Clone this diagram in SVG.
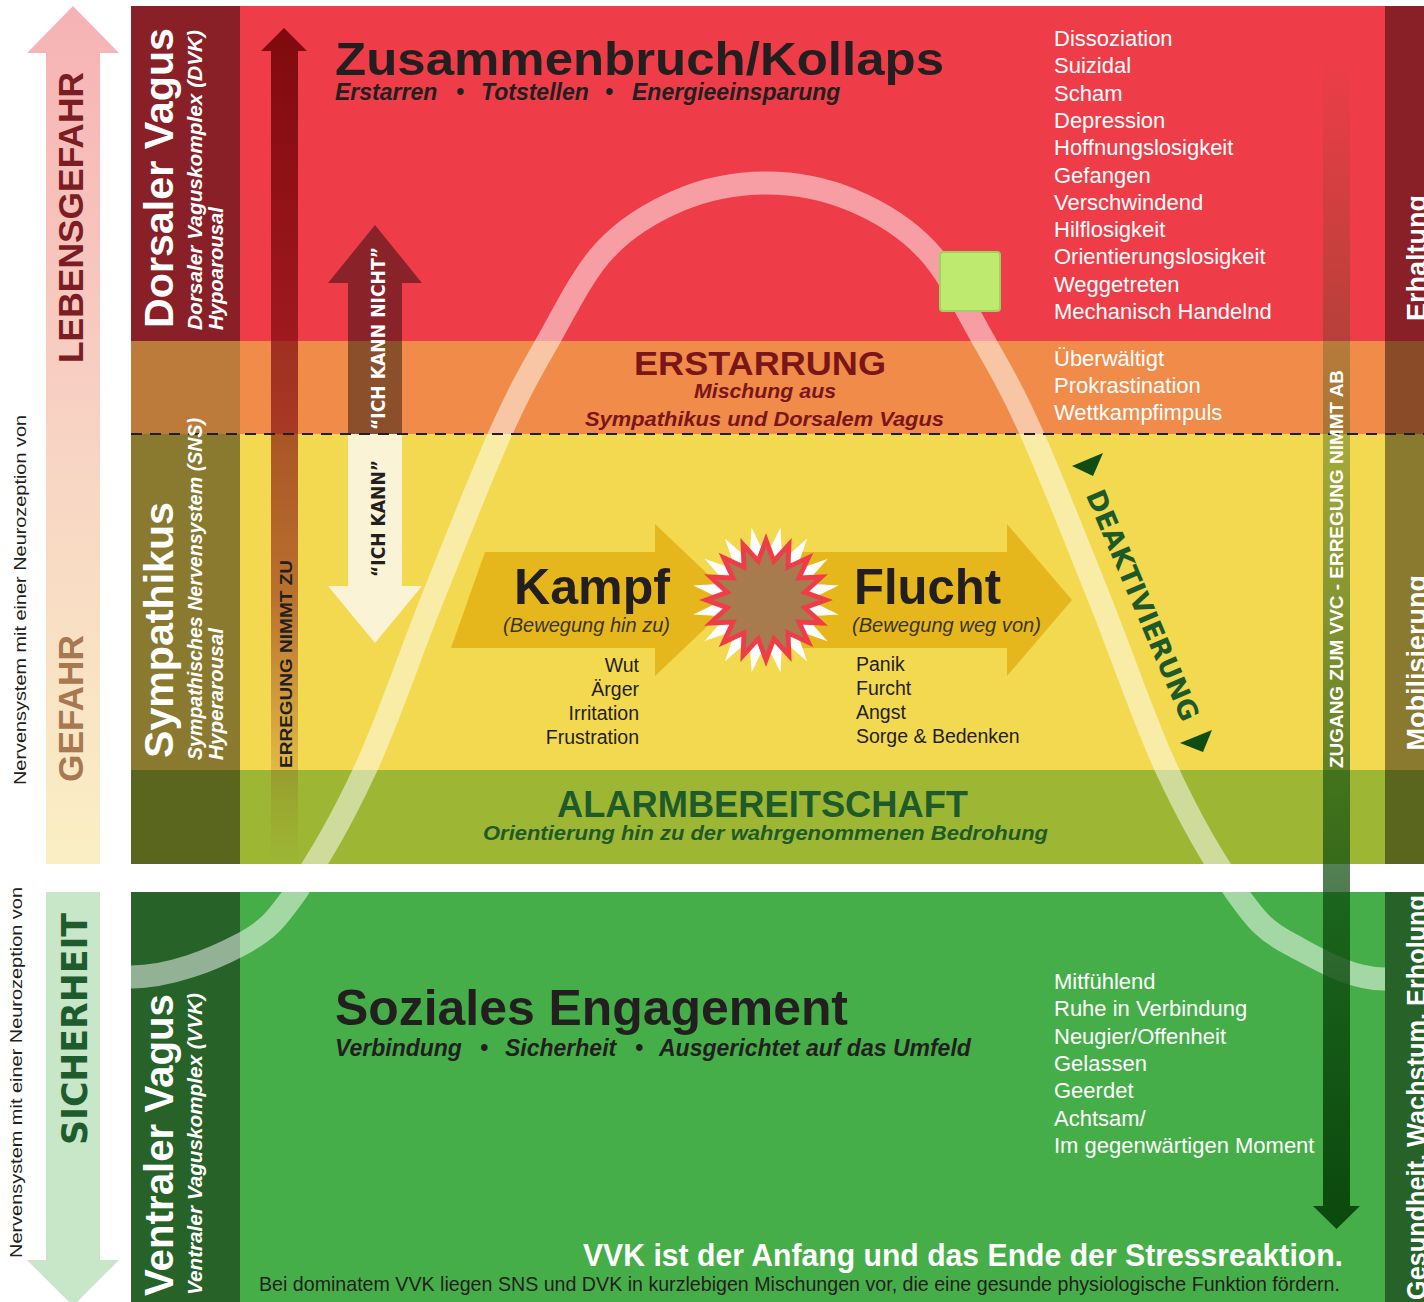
<svg xmlns="http://www.w3.org/2000/svg" width="1424" height="1302" viewBox="0 0 1424 1302">
<defs>
<style>
.b{font-family:"Liberation Sans",Arial,sans-serif;font-weight:bold}
.bi{font-family:"Liberation Sans",Arial,sans-serif;font-weight:bold;font-style:italic}
.r{font-family:"Liberation Sans",Arial,sans-serif}
.it{font-family:"Liberation Sans",Arial,sans-serif;font-style:italic}
.dv{font-family:"DejaVu Sans",Verdana,sans-serif;font-weight:bold}
.w{fill:#ffffff}
.k{fill:#231F20}
.list{font-family:"Liberation Sans",Arial,sans-serif;font-size:22px;fill:#ffffff}
.kl{font-family:"Liberation Sans",Arial,sans-serif;font-size:19.5px;fill:#231F20}
</style>
<linearGradient id="gLeb" x1="0" y1="6" x2="0" y2="864" gradientUnits="userSpaceOnUse">
<stop offset="0" stop-color="#F6B2B4"/><stop offset="0.5" stop-color="#F8D3C4"/><stop offset="1" stop-color="#FAEFC4"/>
</linearGradient>
<linearGradient id="gErr" x1="0" y1="28" x2="0" y2="864" gradientUnits="userSpaceOnUse">
<stop offset="0" stop-color="#7F0A0E" stop-opacity="1"/>
<stop offset="0.36" stop-color="#7F0A0E" stop-opacity="0.72"/>
<stop offset="0.68" stop-color="#7F0A0E" stop-opacity="0.5"/>
<stop offset="0.92" stop-color="#7F0A0E" stop-opacity="0.1"/>
<stop offset="1" stop-color="#7F0A0E" stop-opacity="0"/>
</linearGradient>
<linearGradient id="gZug" x1="0" y1="55" x2="0" y2="1206" gradientUnits="userSpaceOnUse">
<stop offset="0" stop-color="#0C4A0E" stop-opacity="0"/>
<stop offset="1" stop-color="#0C4A0E" stop-opacity="1"/>
</linearGradient>
<polygon id="star" points="0,-100 11.3,-56.9 38.3,-92.4 32.2,-48.2 70.7,-70.7 48.2,-32.2 92.4,-38.3 56.9,-11.3 100,0 56.9,11.3 92.4,38.3 48.2,32.2 70.7,70.7 32.2,48.2 38.3,92.4 11.3,56.9 0,100 -11.3,56.9 -38.3,92.4 -32.2,48.2 -70.7,70.7 -48.2,32.2 -92.4,38.3 -56.9,11.3 -100,0 -56.9,-11.3 -92.4,-38.3 -48.2,-32.2 -70.7,-70.7 -32.2,-48.2 -38.3,-92.4 -11.3,-56.9"/>
<polygon id="star2" points="0,-100 12.9,-64.7 38.3,-92.4 36.7,-54.9 70.7,-70.7 54.9,-36.7 92.4,-38.3 64.7,-12.9 100,0 64.7,12.9 92.4,38.3 54.9,36.7 70.7,70.7 36.7,54.9 38.3,92.4 12.9,64.7 0,100 -12.9,64.7 -38.3,92.4 -36.7,54.9 -70.7,70.7 -54.9,36.7 -92.4,38.3 -64.7,12.9 -100,0 -64.7,-12.9 -92.4,-38.3 -54.9,-36.7 -70.7,-70.7 -36.7,-54.9 -38.3,-92.4 -12.9,-64.7"/>
<clipPath id="clipBands"><rect x="131" y="6" width="1254" height="858"/><rect x="131" y="892" width="1254" height="410"/></clipPath>
</defs>

<g id="bands">
<rect x="131" y="6" width="1293" height="335" fill="#EE3D48"/>
<rect x="131" y="341" width="1293" height="93" fill="#F08B4A"/>
<rect x="131" y="434" width="1293" height="336" fill="#F3D94F"/>
<rect x="131" y="770" width="1293" height="94" fill="#9DB734"/>
<rect x="131" y="892" width="1293" height="410" fill="#46AE48"/>
</g>
<g id="left-column">
<rect x="131" y="6" width="109" height="335" fill="#8A2027"/>
<rect x="131" y="341" width="109" height="93" fill="#BC7B3A"/>
<rect x="131" y="434" width="109" height="336" fill="#8A7A30"/>
<rect x="131" y="770" width="109" height="94" fill="#5A661E"/>
<rect x="131" y="892" width="109" height="410" fill="#276329"/>
</g>
<g id="right-column">
<rect x="1385" y="6" width="39" height="335" fill="#8A2027"/>
<rect x="1385" y="341" width="39" height="93" fill="#8A4B28"/>
<rect x="1385" y="434" width="39" height="336" fill="#8A7A30"/>
<rect x="1385" y="770" width="39" height="94" fill="#5A661E"/>
<rect x="1385" y="892" width="39" height="410" fill="#276329"/>
</g>

<g id="curve" clip-path="url(#clipBands)">
<path d="M131,977 C170,977 212.5,959.5 240,945 C267.5,930.5 275.2,921.2 296,892 C316.8,862.8 342.3,818.7 365,770 C387.7,721.3 409.5,656 432,600 C454.5,544 480.7,477.2 500,434 C519.3,390.8 530.5,371.7 548,341 C565.5,310.3 583,273.5 605,250 C627,226.5 653.2,211.2 680,200 C706.8,188.8 737.3,183 766,183 C794.7,183 825.2,188.8 852,200 C878.8,211.2 905,226.5 927,250 C949,273.5 966.5,310.3 984,341 C1001.5,371.7 1012.7,390.8 1032,434 C1051.3,477.2 1077.5,544 1100,600 C1122.5,656 1144.3,721.3 1167,770 C1189.7,818.7 1215.2,862.8 1236,892 C1256.8,921.2 1264.5,930.5 1292,945 C1319.5,959.5 1350,979 1385,979" fill="none" stroke="#ffffff" stroke-opacity="0.5" stroke-width="23"/>
</g>

<g id="connectors">
<path id="arrow-lebensgefahr" d="M46,864 V53 H27 L73,6 L119,53 H100 V864 Z" fill="url(#gLeb)"/>
<path id="arrow-sicherheit" d="M46,892 V1260 H27 L73,1306 L119,1260 H100 V892 Z" fill="#C8E6C8"/>
<path id="arrow-erregung-zu" d="M271,864 V51 H261 L284,28 L307,51 H298 V864 Z" fill="url(#gErr)"/>
<path id="arrow-ich-kann-nicht" d="M348,434 V283 H328 L375,225 L422,283 H402 V434 Z" fill="#000000" fill-opacity="0.42"/>
<path id="arrow-ich-kann" d="M348,434 V586 H328 L375,643 L422,586 H402 V434 Z" fill="#FBF3D6"/>
<path id="arrow-zugang" d="M1323,55 V1206 H1313 L1336.5,1229 L1360,1206 H1350 V55 Z" fill="url(#gZug)"/>
<polygon id="arrow-kampf" points="485,552 655,552 655,524 735,600 655,676 655,648 451,648" fill="#E5B71C"/>
<polygon id="arrow-flucht" points="766,552 1007,552 1007,524 1072,600 1007,676 1007,648 766,648" fill="#E5B71C"/>
<polygon id="tri-top" points="1072,466 1103,453 1093,476" fill="#0F4D12"/>
<polygon id="tri-bottom" points="1180,743 1212,730 1203,752" fill="#0F4D12"/>
</g>

<g id="dashed-divider">
<line x1="131" y1="434" x2="1424" y2="434" stroke="#231F20" stroke-width="2" stroke-dasharray="11 8"/>
</g>

<g id="star-burst">
<use href="#star" transform="translate(766,600) rotate(11.25) scale(0.74)" fill="#ffffff"/>
<use href="#star2" transform="translate(766,600) scale(0.6)" fill="#A87B4E" stroke="#EE3D48" stroke-width="8" stroke-miterlimit="10"/>
</g>

<g id="marker-square">
<rect x="940" y="252" width="60" height="59" rx="3" fill="#BEEA70" stroke="#9DD35C" stroke-width="2"/>
</g>

<g id="side-labels">
<text class="b" font-size="35" fill="#7B1D23" transform="translate(83,363) rotate(-90)" textLength="291" lengthAdjust="spacingAndGlyphs">LEBENSGEFAHR</text>
<text class="b" font-size="35" fill="#A87850" transform="translate(83,782) rotate(-90)" textLength="147" lengthAdjust="spacingAndGlyphs">GEFAHR</text>
<text class="dv" font-size="36" fill="#1E5C2E" transform="translate(87,1145) rotate(-90)" textLength="232" lengthAdjust="spacingAndGlyphs">SICHERHEIT</text>
<text class="r" font-size="17" fill="#231F20" transform="translate(26,785) rotate(-90)" textLength="370" lengthAdjust="spacingAndGlyphs">Nervensystem mit einer Neurozeption von</text>
<text class="r" font-size="17" fill="#231F20" transform="translate(22,1258) rotate(-90)" textLength="371" lengthAdjust="spacingAndGlyphs">Nervensystem mit einer Neurozeption von</text>
</g>

<g id="node-dorsaler-vagus">
<text class="b w" font-size="41" transform="translate(173,328) rotate(-90)" textLength="300" lengthAdjust="spacingAndGlyphs">Dorsaler Vagus</text>
<text class="bi w" font-size="21" transform="translate(202,330) rotate(-90)" textLength="300" lengthAdjust="spacingAndGlyphs">Dorsaler Vaguskomplex (DVK)</text>
<text class="bi w" font-size="21" transform="translate(223,330) rotate(-90)" textLength="123" lengthAdjust="spacingAndGlyphs">Hypoarousal</text>
</g>
<g id="node-sympathikus">
<text class="b w" font-size="41" transform="translate(173,758) rotate(-90)" textLength="256" lengthAdjust="spacingAndGlyphs">Sympathikus</text>
<text class="bi w" font-size="21" transform="translate(202,760) rotate(-90)" textLength="342" lengthAdjust="spacingAndGlyphs">Sympathisches Nervensystem (SNS)</text>
<text class="bi w" font-size="21" transform="translate(223,760) rotate(-90)" textLength="132" lengthAdjust="spacingAndGlyphs">Hyperarousal</text>
</g>
<g id="node-ventraler-vagus">
<text class="b w" font-size="41" transform="translate(173,1296) rotate(-90)" textLength="302" lengthAdjust="spacingAndGlyphs">Ventraler Vagus</text>
<text class="bi w" font-size="21" transform="translate(202,1295) rotate(-90)" textLength="302" lengthAdjust="spacingAndGlyphs">Ventraler Vaguskomplex (VVK)</text>
</g>

<g id="arrow-labels">
<text class="b k" font-size="17" transform="translate(292,768) rotate(-90)" textLength="208" lengthAdjust="spacingAndGlyphs">ERREGUNG NIMMT ZU</text>
<text class="dv w" font-size="20" transform="translate(385,430) rotate(-90)" textLength="183" lengthAdjust="spacingAndGlyphs">“ICH KANN NICHT”</text>
<text class="dv k" font-size="20" transform="translate(385,577) rotate(-90)" textLength="117" lengthAdjust="spacingAndGlyphs">“ICH KANN”</text>
<text class="b w" font-size="18" transform="translate(1343,768) rotate(-90)" textLength="398" lengthAdjust="spacingAndGlyphs">ZUGANG ZUM VVC - ERREGUNG NIMMT AB</text>
<text class="dv" font-size="27" fill="#1E5A28" text-anchor="middle" transform="translate(1134,609) rotate(67)">DEAKTIVIERUNG</text>
</g>

<g id="node-kollaps">
<text class="b k" x="335" y="75" font-size="46" textLength="609" lengthAdjust="spacingAndGlyphs">Zusammenbruch/Kollaps</text>
<text class="bi k" font-size="23" y="100"><tspan x="335">Erstarren</tspan><tspan x="456">•</tspan><tspan x="481">Totstellen</tspan><tspan x="605">•</tspan><tspan x="632">Energieeinsparung</tspan></text>
<text class="list" x="1054" y="46">Dissoziation</text>
<text class="list" x="1054" y="73.3">Suizidal</text>
<text class="list" x="1054" y="100.6">Scham</text>
<text class="list" x="1054" y="127.9">Depression</text>
<text class="list" x="1054" y="155.2">Hoffnungslosigkeit</text>
<text class="list" x="1054" y="182.5">Gefangen</text>
<text class="list" x="1054" y="209.8">Verschwindend</text>
<text class="list" x="1054" y="237.1">Hilflosigkeit</text>
<text class="list" x="1054" y="264.4">Orientierungslosigkeit</text>
<text class="list" x="1054" y="291.7">Weggetreten</text>
<text class="list" x="1054" y="319">Mechanisch Handelnd</text>
</g>

<g id="node-erstarrung">
<text class="b" fill="#7A1518" x="760" y="375" font-size="33" text-anchor="middle" textLength="252" lengthAdjust="spacingAndGlyphs">ERSTARRUNG</text>
<text class="bi" fill="#7A1518" x="765" y="398" font-size="20" text-anchor="middle" textLength="142" lengthAdjust="spacingAndGlyphs">Mischung aus</text>
<text class="bi" fill="#7A1518" x="764.5" y="426" font-size="20" text-anchor="middle" textLength="359" lengthAdjust="spacingAndGlyphs">Sympathikus und Dorsalem Vagus</text>
<text class="list" x="1054" y="366">Überwältigt</text>
<text class="list" x="1054" y="393">Prokrastination</text>
<text class="list" x="1054" y="420">Wettkampfimpuls</text>
</g>

<g id="node-kampf">
<text class="b k" x="514" y="604" font-size="50" textLength="156" lengthAdjust="spacingAndGlyphs">Kampf</text>
<text class="it" fill="#3C3526" x="503" y="632" font-size="20" textLength="167" lengthAdjust="spacingAndGlyphs">(Bewegung hin zu)</text>
<text class="kl" x="639" y="672" text-anchor="end">Wut</text>
<text class="kl" x="639" y="696" text-anchor="end">Ärger</text>
<text class="kl" x="639" y="720" text-anchor="end">Irritation</text>
<text class="kl" x="639" y="744" text-anchor="end">Frustration</text>
</g>
<g id="node-flucht">
<text class="b k" x="854" y="604" font-size="50" textLength="147" lengthAdjust="spacingAndGlyphs">Flucht</text>
<text class="it" fill="#3C3526" x="852" y="632" font-size="20" textLength="189" lengthAdjust="spacingAndGlyphs">(Bewegung weg von)</text>
<text class="kl" x="856" y="671">Panik</text>
<text class="kl" x="856" y="695">Furcht</text>
<text class="kl" x="856" y="719">Angst</text>
<text class="kl" x="856" y="743">Sorge &amp; Bedenken</text>
</g>

<g id="node-alarm">
<text class="b" fill="#1F5A2A" x="762.5" y="817" font-size="36" text-anchor="middle" textLength="411" lengthAdjust="spacingAndGlyphs">ALARMBEREITSCHAFT</text>
<text class="bi" fill="#1F5A2A" x="765.5" y="840" font-size="20" text-anchor="middle" textLength="565" lengthAdjust="spacingAndGlyphs">Orientierung hin zu der wahrgenommenen Bedrohung</text>
</g>

<g id="node-soziales-engagement">
<text class="b k" x="335" y="1025" font-size="50" textLength="513" lengthAdjust="spacingAndGlyphs">Soziales Engagement</text>
<text class="bi k" font-size="23" y="1056"><tspan x="335">Verbindung</tspan><tspan x="480">•</tspan><tspan x="505">Sicherheit</tspan><tspan x="635">•</tspan><tspan x="659">Ausgerichtet auf das Umfeld</tspan></text>
<text class="list" x="1054" y="989">Mitfühlend</text>
<text class="list" x="1054" y="1016">Ruhe in Verbindung</text>
<text class="list" x="1054" y="1043.5">Neugier/Offenheit</text>
<text class="list" x="1054" y="1071">Gelassen</text>
<text class="list" x="1054" y="1098">Geerdet</text>
<text class="list" x="1054" y="1125.5">Achtsam/</text>
<text class="list" x="1054" y="1153">Im gegenwärtigen Moment</text>
<text class="b w" x="583" y="1266" font-size="32" textLength="760" lengthAdjust="spacingAndGlyphs">VVK ist der Anfang und das Ende der Stressreaktion.</text>
<text class="r k" x="259" y="1291" font-size="21" textLength="1081" lengthAdjust="spacingAndGlyphs">Bei dominatem VVK liegen SNS und DVK in kurzlebigen Mischungen vor, die eine gesunde physiologische Funktion fördern.</text>
</g>

<g id="right-labels">
<text class="b w" font-size="27" text-anchor="end" transform="translate(1426,195) rotate(-90)">Erhaltung</text>
<text class="b w" font-size="27" text-anchor="end" transform="translate(1426,575) rotate(-90)">Mobilisierung</text>
<text class="b w" font-size="27" transform="translate(1426,1300) rotate(-90)" textLength="405" lengthAdjust="spacingAndGlyphs">Gesundheit, Wachstum, Erholung</text>
</g>
</svg>
